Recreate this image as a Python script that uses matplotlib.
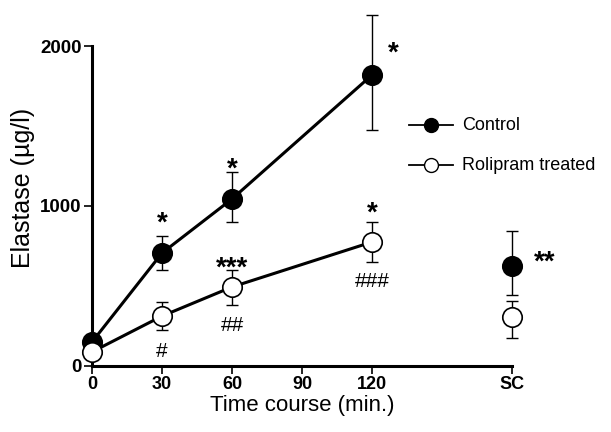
import matplotlib.pyplot as plt

plt.rcParams["font.family"] = ["Liberation Sans", "DejaVu Sans"]

# time course (min); SC is drawn at position 180
times = [0, 30, 60, 120]
sc_pos = 180
xtick_pos = [0, 30, 60, 90, 120, 180]
xtick_labels = ["0", "30", "60", "90", "120", "SC"]

control_mean = [150, 706, 1044, 1819]
control_err_lo = [0, 106, 144, 344]
control_err_hi = [0, 106, 168, 375]
control_sc = 625
control_sc_err = (181, 219)

roli_mean = [88, 312, 494, 775]
roli_err_lo = [0, 87, 113, 125]
roli_err_hi = [0, 88, 106, 125]
roli_sc = 306
roli_sc_err = (131, 100)

# significance marks: (x, y, text)
stars = [(30, 890, "*"), (60, 1230, "*"), (129, 1955, "*"),
         (120, 950, "*"), (60, 610, "***"), (194, 645, "**")]
hashes = [(30, 90, "#"), (60, 250, "##"), (120, 530, "###")]

fig = plt.figure(figsize=(6.11, 4.32), dpi=100)
ax = fig.add_axes([0.1506, 0.1528, 0.6874, 0.7407])

for x, m, lo, hi in [(times, control_mean, control_err_lo, control_err_hi),
                     (times, roli_mean, roli_err_lo, roli_err_hi),
                     ([sc_pos], [control_sc], [control_sc_err[0]], [control_sc_err[1]]),
                     ([sc_pos], [roli_sc], [roli_sc_err[0]], [roli_sc_err[1]])]:
    ax.errorbar(x, m, yerr=[lo, hi], fmt="none", ecolor="black", elinewidth=1.0,
                capsize=4, capthick=1.0, zorder=2, clip_on=False)

ax.plot(times, control_mean, "-", color="black", lw=2.2, zorder=3)
ax.plot(times, roli_mean, "-", color="black", lw=2.2, zorder=3)
ax.plot(times + [sc_pos], control_mean + [control_sc], "o", ls="none", ms=14,
        mfc="black", mec="black", mew=1.2, zorder=4, clip_on=False)
ax.plot(times + [sc_pos], roli_mean + [roli_sc], "o", ls="none", ms=14,
        mfc="white", mec="black", mew=1.2, zorder=4, clip_on=False)

for x, y, s in stars:
    ax.text(x, y, s, ha="center", va="center", fontsize=20, fontweight="bold")
for x, y, s in hashes:
    ax.text(x, y, s, ha="center", va="center", fontsize=15)

# legend drawn by hand in axes coords
for yy, fc, lab in [(0.753, "black", "Control"), (0.628, "white", "Rolipram treated")]:
    ax.plot([0.755, 0.86], [yy, yy], "-", color="black", lw=1.3,
            transform=ax.transAxes, clip_on=False)
    ax.plot([0.807], [yy], "o", ms=10, mfc=fc, mec="black",
            transform=ax.transAxes, clip_on=False)
    ax.text(0.881, yy, lab, transform=ax.transAxes, va="center", fontsize=13)

ax.set_xlim(0, 180)
ax.set_ylim(0, 2000)
ax.set_xticks(xtick_pos)
ax.set_xticklabels(xtick_labels, fontweight="bold", fontsize=13)
ax.set_yticks([0, 1000, 2000])
ax.set_yticklabels(["0", "1000", "2000"], fontweight="bold", fontsize=13.5)
ax.tick_params(direction="out", length=6, width=1.2, pad=1.5)
for side in ["top", "right"]:
    ax.spines[side].set_visible(False)
ax.spines["left"].set_linewidth(2.2)
ax.spines["bottom"].set_linewidth(2.2)
ax.set_xlabel("Time course (min.)", fontsize=16, labelpad=1)
ax.set_ylabel("Elastase (µg/l)", fontsize=18)
ax.yaxis.set_label_coords(-0.135, 0.556)

fig.savefig("out.png", dpi=100)
